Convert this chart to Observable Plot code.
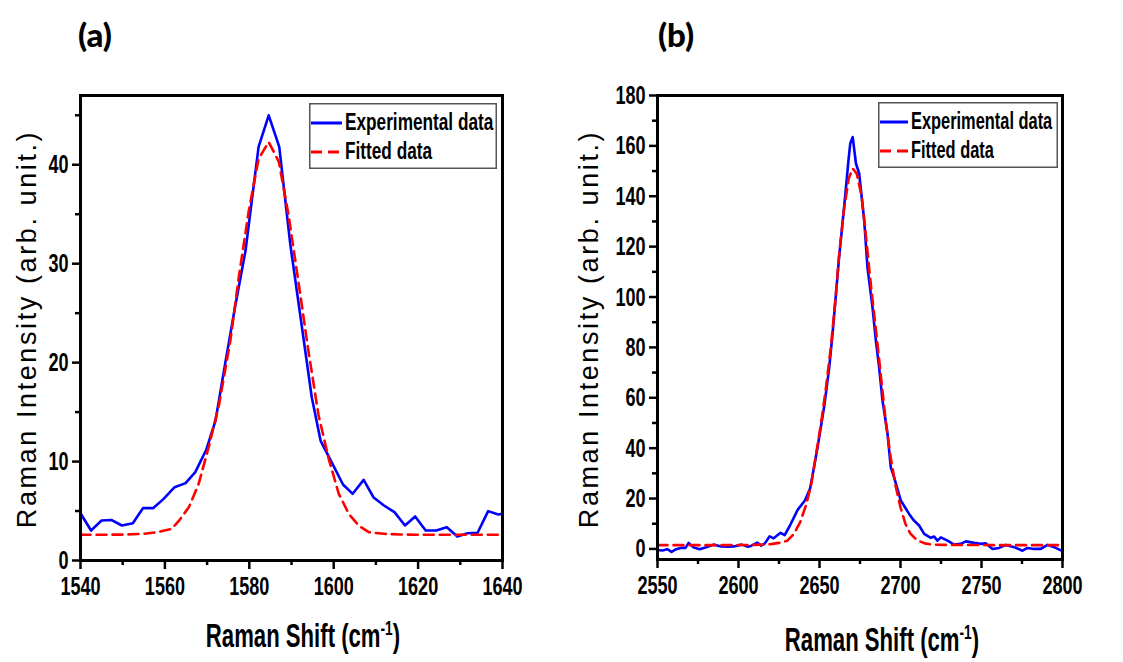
<!DOCTYPE html>
<html><head><meta charset="utf-8">
<script src="https://cdn.jsdelivr.net/npm/d3@7"></script>
<script src="https://cdn.jsdelivr.net/npm/@observablehq/plot@0.6"></script>
<style>
html,body{margin:0;padding:0;background:#fff;}
#wrap{position:relative;width:1123px;height:662px;overflow:hidden;background:#fff;}
.panel{position:absolute;top:0;}
.lbl{position:absolute;white-space:nowrap;line-height:1;color:#000;}
.title{font-family:Lato,"Open Sans",sans-serif;font-weight:900;font-size:33px;}
.xlab{font-family:"Liberation Sans",Arial,sans-serif;font-weight:bold;font-size:27px;}
.xlab sup{font-size:0.62em;vertical-align:0.6em;line-height:0;}
.ylab{font-family:"Liberation Sans",Arial,sans-serif;font-size:27px;letter-spacing:2.6px;}
</style></head><body><div id="wrap"></div>
<script>
// ---------- data: panel (a) G band ----------
const shiftA = [1540,1542.5,1545,1547.3,1549.8,1552.4,1554.8,1557.2,1559.7,1562.3,1564.9,1567.2,1569.8,1572,1574.2,1576.7,1579.1,1582.2,1584.6,1587.1,1589.7,1592.4,1594.8,1596.9,1599.5,1602.2,1604.5,1607.1,1609.4,1611.9,1614.4,1616.9,1619.3,1621.8,1624.3,1626.8,1629.3,1631.7,1634.1,1636.6,1639,1640];
const expA = [4.78,3.03,4.04,4.1,3.54,3.77,5.29,5.29,6.23,7.41,7.82,8.93,11.19,14.15,19.7,25.8,31.3,41.8,45.0,41.8,32.0,23.8,16.5,12.1,9.94,7.68,6.74,8.15,6.4,5.56,4.89,3.54,4.45,3.03,3.03,3.37,2.43,2.76,2.8,4.99,4.65,4.72];
const fitShiftA = [1540,1545,1550,1555,1558,1561.6,1563.3,1565.7,1568,1570.4,1572.8,1575.5,1577.5,1579.9,1582.2,1584.6,1587,1589.3,1591.7,1594,1596.4,1598.8,1601.2,1603.6,1605.9,1608.3,1611.9,1615.8,1620,1630,1640];
const fitA = [2.6,2.6,2.62,2.7,2.85,3.2,4.0,5.4,7.75,11.5,15.7,22.2,28.6,35.4,40.6,42.3,40.3,34.9,28,21.2,14.7,10.3,6.74,4.7,3.54,2.86,2.7,2.63,2.6,2.6,2.6];

// ---------- data: panel (b) 2D band ----------
const shiftB = [2550,2553,2556,2558.7,2561.5,2564.4,2567.3,2569.2,2572,2576,2580,2584.6,2589.4,2593.3,2597,2602,2605.8,2607.7,2611.5,2614,2616.3,2619.2,2621.7,2626,2628.5,2631.7,2636.5,2641,2644.2,2646.5,2648.8,2651,2653,2656,2658,2660,2662,2664,2666,2668,2669,2670.5,2672.5,2674.5,2676,2677.6,2679.6,2682.7,2684.8,2686.8,2688.9,2692,2694,2696,2700.2,2705.3,2708,2711.5,2714.6,2718.7,2720.8,2722.8,2724.9,2729,2733.1,2737.2,2740.3,2745.5,2749.6,2752.7,2756.8,2760.9,2765,2770.2,2775.3,2778.4,2782.5,2786.6,2790.7,2794.9,2800];
const expB = [-0.4,-0.6,-0.1,-1.2,-0.1,0.4,0.4,2.4,0.7,-0.1,0.7,1.7,1.0,0.9,1.0,1.7,0.9,1.2,2.5,1.3,2.2,5.0,4.2,6.4,5.5,9.2,15.5,19.2,24,32,40.4,49,57,72,85,100,115,128,141,155,161,163.5,153,149,140,130.4,111.8,96,82.7,72.1,58.9,45.7,32.4,28.5,19.2,13.9,11.5,9.3,6.0,4.4,4.9,3.3,4.6,3.3,1.7,2.0,3.0,2.4,2.0,2.2,0,0.4,1.6,0.7,-0.7,0.4,0,0,1.6,0.7,-0.9];
const fitShiftB = [2550,2570,2590,2610,2620,2625,2630,2634,2638,2642,2645,2648,2651,2654,2657,2660,2662,2665,2668,2670.5,2673,2676,2679,2682,2685,2688,2691,2694,2697,2700,2703,2706,2710,2715,2720,2730,2760,2800];
const fitB = [1.5,1.5,1.5,1.6,1.9,2.4,3.2,5.8,10.5,18,26,38,50,64,80,100,116,134,147,151,149,140,122,103,86,68,50,36,25,16.5,10,6.2,3.5,2.2,1.7,1.6,1.5,1.5];

// ---------- ticks ----------
const xMajorA = [1540,1560,1580,1600,1620,1640];
const xMinorA = [1550,1570,1590,1610,1630];
const yMajorA = [0,10,20,30,40];
const yMinorA = [5,15,25,35,45];
const xMajorB = [2550,2600,2650,2700,2750,2800];
const xMinorB = [2575,2625,2675,2725,2775];
const yMajorB = [0,20,40,60,80,100,120,140,160,180];
const yMinorB = [10,30,50,70,90,110,130,150,170];

const seriesNames = ["Experimental data","Fitted data"];
const seriesColors = ["#0000ff","#ff0000"];

const TICKFONT = '"Liberation Sans",Arial,sans-serif';
const SX = 0.82, SY = 1.2;
const wrap = document.getElementById("wrap");

// narrow + tall look of the original tick labels
function stretchTicks(svg) {
  svg.querySelectorAll('g[aria-label$="tick label"] text').forEach(t => {
    const isY = t.parentNode.getAttribute("aria-label").startsWith("y");
    const r = t.getBoundingClientRect();
    const parent = t.parentNode;
    const m = parent.getScreenCTM().inverse();
    const p = svg.createSVGPoint(); p.x = isY ? r.right : r.x + r.width/2; p.y = r.y + r.height/2;
    const q = p.matrixTransform(m);
    const g = document.createElementNS("http://www.w3.org/2000/svg","g");
    g.setAttribute("transform", `translate(${q.x},${q.y}) scale(${SX},${SY}) translate(${-q.x},${-q.y})`);
    parent.insertBefore(g, t); g.appendChild(t);
  });
}

function panel(o) {
  const exp = o.expX.map((x,i)=>({x, y:o.expY[i]}));
  const fit = o.fitX.map((x,i)=>({x, y:o.fitY[i]}));
  const chart = Plot.plot({
    width: o.width, height: 662,
    marginLeft: o.mL, marginRight: o.mR, marginTop: 95, marginBottom: o.mB,
    style: {fontFamily: TICKFONT, fontSize: "22px", fontWeight: "bold", color: "#000", background: "transparent", overflow: "visible"},
    x: {domain: o.xDomain},
    y: {domain: o.yDomain},
    marks: [
      Plot.line(exp, {x:"x", y:"y", stroke: seriesColors[0], strokeWidth: 2.6, clip: true}),
      Plot.line(fit, {x:"x", y:"y", stroke: seriesColors[1], strokeWidth: 2.6, strokeDasharray: "10,6", clip: true}),
      Plot.axisX({ticks: o.xMajor, tickSize: 9, tickPadding: 8, strokeWidth: 2.5, tickFormat: d => String(d), label: null}),
      Plot.axisX({ticks: o.xMinor, tickSize: 5, strokeWidth: 2.5, tickFormat: () => "", label: null}),
      Plot.axisY({ticks: o.yMajor, tickSize: 8, tickPadding: 4, strokeWidth: 2.5, tickFormat: d => String(d), label: null}),
      Plot.axisY({ticks: o.yMinor, tickSize: 5, strokeWidth: 2.5, tickFormat: () => "", label: null}),
      Plot.frame({stroke: "#000", strokeWidth: 3})
    ]
  });
  chart.classList.add("panel");
  chart.style.left = o.left + "px";
  wrap.appendChild(chart);
  stretchTicks(chart);
}

panel({left: 0, width: 540, mL: 80, mR: 38, mB: 102, xDomain: [1540,1640], yDomain: [0,47],
  xMajor: xMajorA, xMinor: xMinorA, yMajor: yMajorA, yMinor: yMinorA,
  expX: shiftA, expY: expA, fitX: fitShiftA, fitY: fitA});
panel({left: 560, width: 563, mL: 97, mR: 61, mB: 103, xDomain: [2550,2800], yDomain: [-4.2,180],
  xMajor: xMajorB, xMinor: xMinorB, yMajor: yMajorB, yMinor: yMinorB,
  expX: shiftB, expY: expB, fitX: fitShiftB, fitY: fitB});

function addLabel(cls, html, cx, cy, transform) {
  const d = document.createElement("div");
  d.className = "lbl " + cls;
  d.innerHTML = html;
  d.style.left = cx + "px"; d.style.top = cy + "px";
  d.style.transform = "translate(-50%,-50%) " + (transform || "");
  wrap.appendChild(d);
}
addLabel("title", "(a)", 95, 34);
addLabel("title", "(b)", 676, 34);
addLabel("xlab", "Raman Shift (cm<sup>-1</sup>)", 303, 637, `scale(${SX},${SY})`);
addLabel("xlab", "Raman Shift (cm<sup>-1</sup>)", 882, 641, `scale(${SX},${SY})`);
addLabel("ylab", "Raman Intensity (arb. unit.)", 27, 329, "rotate(-90deg)");
addLabel("ylab", "Raman Intensity (arb. unit.)", 589, 329, "rotate(-90deg)");

function legend(x, y, w, h, fs, lineW) {
  const NS = "http://www.w3.org/2000/svg";
  const s = document.createElementNS(NS, "svg");
  s.setAttribute("width", w); s.setAttribute("height", h);
  s.style.position = "absolute"; s.style.left = x + "px"; s.style.top = y + "px";
  let html = `<rect x="0.75" y="0.75" width="${w-1.5}" height="${h-1.5}" fill="#fff" stroke="#555" stroke-width="1.5"/>`;
  seriesNames.forEach((name, i) => {
    const ly = 20 + i * 29;
    html += `<line x1="2" x2="${lineW}" y1="${ly}" y2="${ly}" stroke="${seriesColors[i]}" stroke-width="3" ${i ? 'stroke-dasharray="11,6"' : ''}/>`;
    html += `<text transform="translate(${lineW + 3},${ly + 7}) scale(${SX},1.15)" font-family='${TICKFONT}' font-weight="bold" font-size="${fs}" fill="#000">${name}</text>`;
  });
  s.innerHTML = html;
  wrap.appendChild(s);
}
legend(309, 103, 188, 66, 21, 33);
legend(878, 102, 180, 66, 20, 30);
</script></body></html>
